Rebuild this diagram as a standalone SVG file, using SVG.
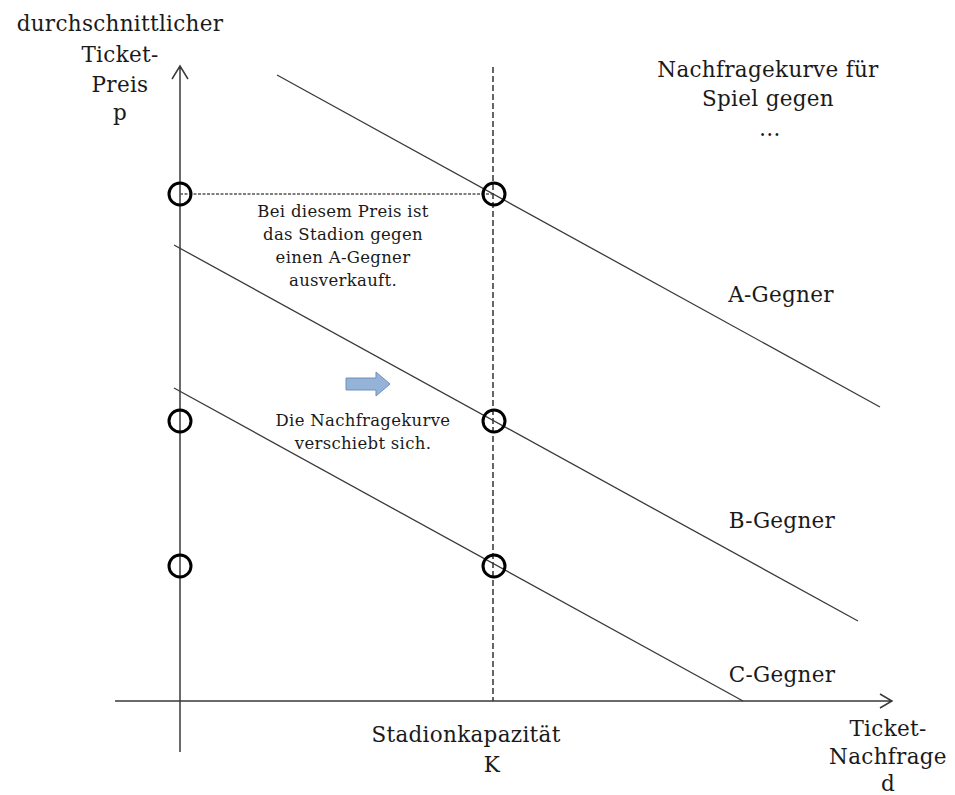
<svg xmlns="http://www.w3.org/2000/svg" width="955" height="795" viewBox="0 0 955 795">
<style>
  text { font-family: "DejaVu Serif", "Liberation Serif", serif; fill: #1a1a1a; text-anchor: middle; }
  .big { font-size: 21.5px; letter-spacing: 0.3px; }
  .small { font-size: 16.5px; letter-spacing: 0.3px; }
  .axis { stroke: #3a3a3a; stroke-width: 1.5; fill: none; }
  .curve { stroke: #3a3a3a; stroke-width: 1.3; fill: none; }
  .dash { stroke: #333; stroke-width: 1.5; stroke-dasharray: 6 3; fill: none; }
  .dot { stroke: #555; stroke-width: 1.3; stroke-dasharray: 3 1.5; fill: none; }
  .pt { stroke: #000; stroke-width: 3; fill: none; }
</style>
<rect width="955" height="795" fill="#fff"/>
<g id="connectors">
  <path class="axis" d="M180,752 L180,66 M172,79 L180,66 L188,79"/>
  <path class="axis" d="M115,701 L892,701 M880,694 L892,701 L880,708"/>
  <line class="dash" x1="493" y1="67" x2="493" y2="701"/>
  <line class="dot" x1="180" y1="194" x2="493" y2="194"/>
  <line id="curveA" class="curve" x1="277" y1="75" x2="880" y2="407"/>
  <line id="curveB" class="curve" x1="174" y1="245" x2="858" y2="621"/>
  <line id="curveC" class="curve" x1="174" y1="388" x2="743" y2="701"/>
</g>
<g id="points">
  <circle class="pt" cx="180" cy="194" r="11"/>
  <circle class="pt" cx="494" cy="194" r="11"/>
  <circle class="pt" cx="180" cy="421" r="11"/>
  <circle class="pt" cx="494" cy="421" r="11"/>
  <circle class="pt" cx="180" cy="566" r="11"/>
  <circle class="pt" cx="494" cy="566" r="11"/>
</g>
<g id="shift-arrow">
  <path d="M346,378 L376,378 L376,372 L390,384 L376,396 L376,390 L346,390 Z" fill="#95b3d7" stroke="#6f8fbf" stroke-width="1"/>
</g>
<g id="y-label">
  <text class="big" x="120" y="31">durchschnittlicher</text>
  <text class="big" x="120" y="62">Ticket-</text>
  <text class="big" x="120" y="92">Preis</text>
  <text class="big" x="120" y="120">p</text>
</g>
<g id="legend-title">
  <text class="big" x="768" y="77">Nachfragekurve für</text>
  <text class="big" x="768" y="106">Spiel gegen</text>
  <text class="big" x="770" y="136">…</text>
</g>
<g id="note-A">
  <text class="small" x="343" y="217">Bei diesem Preis ist</text>
  <text class="small" x="343" y="240">das Stadion gegen</text>
  <text class="small" x="343" y="263">einen A-Gegner</text>
  <text class="small" x="343" y="286">ausverkauft.</text>
</g>
<g id="note-shift">
  <text class="small" x="363" y="426">Die Nachfragekurve</text>
  <text class="small" x="363" y="449">verschiebt sich.</text>
</g>
<g id="label-A"><text class="big" x="781" y="302">A-Gegner</text></g>
<g id="label-B"><text class="big" x="782" y="528">B-Gegner</text></g>
<g id="label-C"><text class="big" x="782" y="682">C-Gegner</text></g>
<g id="x-label-K">
  <text class="big" x="466" y="742">Stadionkapazität</text>
  <text class="big" x="492" y="772">K</text>
</g>
<g id="x-label-d">
  <text class="big" x="888" y="736">Ticket-</text>
  <text class="big" x="888" y="764">Nachfrage</text>
  <text class="big" x="888" y="791">d</text>
</g>
</svg>
